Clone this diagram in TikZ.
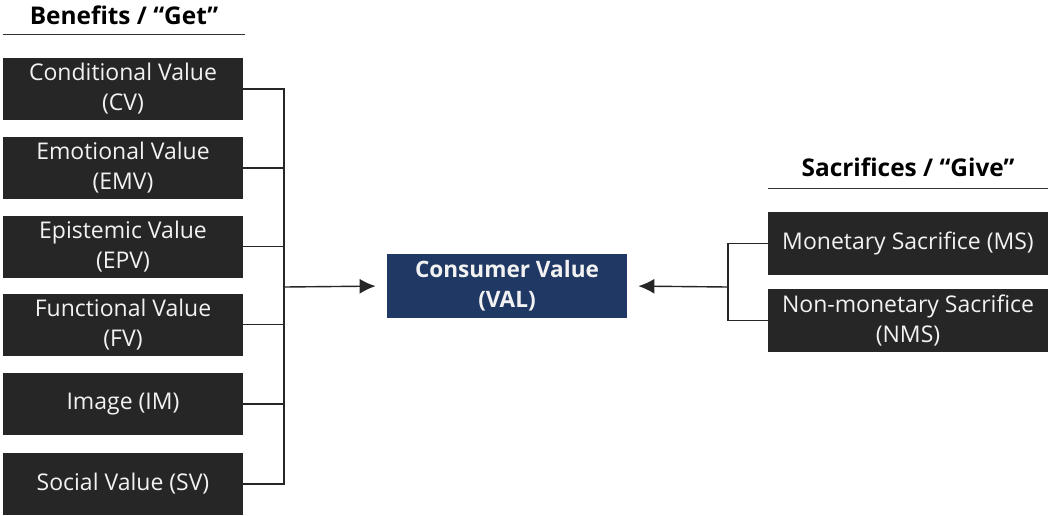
\documentclass[tikz,border=0pt]{standalone}
\usepackage{fontspec}
\setmainfont{Open Sans}
\usepackage{tikz}
\usetikzlibrary{arrows.meta}
\definecolor{boxgray}{HTML}{262626}
\definecolor{navy}{HTML}{203864}
\tikzset{
    normal/.style={draw=black!85, line width=0.7pt},
    b/.style={fill=boxgray, text=white!95!black, inner sep=0pt, align=center, minimum width=120pt, minimum height=31pt, font=\fontsize{11.5}{15}\selectfont}, % benefit boxes
    s/.style={style=b, minimum width=140pt, minimum height=31.5pt}, % sacrifice boxes
    v/.style={style=b, fill=navy, minimum height=32pt, font=\bfseries\fontsize{11.3}{15}\selectfont}, % value box
    hd/.style={inner sep=0pt, minimum height=18pt, anchor=south, font=\bfseries\fontsize{12.2}{14}\selectfont}, % headings
    e/.style={style=normal, shorten >=5.5pt, -{Latex[length=8pt, width=7.5pt]}} % arrows into value
}

\begin{document}
\begin{tikzpicture}[x=0.5pt, y=-0.5pt]
        \useasboundingbox (0,0) rectangle (1048,515);

        % benefits
        \node[hd, minimum width=121pt] (get) at (124, 34) {Benefits / “Get”};
        \draw[draw=black!80, line width=0.5pt] (get.south west) -- (get.south east);
        \node[b] (cv) at (123, 89) {Conditional Value\\(CV)};
        \node[b] (emv) at (123, 168) {Emotional Value\\(EMV)};
        \node[b] (epv) at (123, 246.5) {Epistemic Value\\(EPV)};
        \node[b] (fv) at (123, 324.5) {Functional Value\\(FV)};
        \node[b] (im) at (123, 404) {Image (IM)};
        \node[b] (sv) at (123, 484) {Social Value (SV)};

        % value
        \node[v] (val) at (507, 286) {Consumer Value\\(VAL)};

        % sacrifices
        \node[hd, minimum height=20pt, minimum width=140pt] (give) at (908, 188) {Sacrifices / “Give”};
        \draw[draw=black!80, line width=0.5pt] (give.south west) -- (give.south east);
        \node[s] (ms) at (908, 243.5) {Monetary Sacrifice (MS)};
        \node[s] (nms) at (908, 320.5) {Non-monetary Sacrifice\\(NMS)};

        \coordinate (busL) at (284, 287);
        \coordinate (busR) at (728, 287);

        \foreach \n in {cv, emv, epv, fv, im, sv}
            \draw[normal] (\n.east) -| (busL);
        \draw[e] (busL) -- (val.west);

        \foreach \n in {ms, nms}
            \draw[normal] (\n.west) -| (busR);
        \draw[e] (busR) -- (val.east);
\end{tikzpicture}
\end{document}
